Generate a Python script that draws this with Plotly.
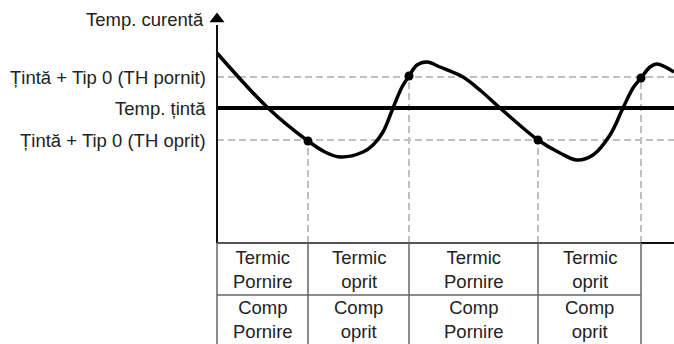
import plotly.graph_objects as go

# ---- data (time units, temperature units) ----
curve_t = [0, 51, 91, 108, 123, 146, 156, 166, 176, 185, 192, 200, 210, 223, 246, 264, 283,
           321, 343, 360, 376, 393, 406, 416, 424, 433, 440, 457]
curve_T = [190, 135, 102, 91, 86, 91, 98, 111, 135, 156, 167, 178, 181, 176, 166, 152, 135,
           103, 90, 83, 88, 108, 135, 155, 165, 176, 179, 171]

event_t = [91, 192, 321, 424]
event_T = [102, 167, 103, 165]

t_end = 457
th_on = 166
target = 135
th_off = 103
axis_top = 218

level_labels = ["Țintă + Tip 0 (TH pornit)", "Temp. țintă", "Țintă + Tip 0 (TH oprit)"]
level_values = [th_on, target, th_off]
y_axis_label = "Temp. curentă"

row1_labels = ["Termic<br>Pornire", "Termic<br>oprit", "Termic<br>Pornire", "Termic<br>oprit"]
row2_labels = ["Comp<br>Pornire", "Comp<br>oprit", "Comp<br>Pornire", "Comp<br>oprit"]
row_bounds = [0, -52, -101]

FONT = "Liberation Sans, Arial, sans-serif"
TXT = "#222222"
DASH = "#c0c0c0"
GRID = "#666666"

fig = go.Figure()

# dashed threshold lines
for v in (th_on, th_off):
    fig.add_trace(go.Scatter(x=[0, t_end], y=[v, v], mode="lines",
                             line=dict(color=DASH, width=2, dash="7px,4px"),
                             hoverinfo="skip", showlegend=False))
# dashed verticals at events
for et, eT in zip(event_t, event_T):
    fig.add_trace(go.Scatter(x=[et, et], y=[0, eT], mode="lines",
                             line=dict(color=DASH, width=2, dash="7px,4px"),
                             hoverinfo="skip", showlegend=False))

# target line
fig.add_trace(go.Scatter(x=[0, t_end], y=[target, target], mode="lines",
                         line=dict(color="black", width=4),
                         hoverinfo="skip", showlegend=False))

# temperature curve
fig.add_trace(go.Scatter(x=curve_t, y=curve_T, mode="lines",
                         line=dict(color="black", width=3.5, shape="spline", smoothing=1.0),
                         hoverinfo="skip", showlegend=False))
# event dots
fig.add_trace(go.Scatter(x=event_t, y=event_T, mode="markers",
                         marker=dict(color="black", size=9),
                         hoverinfo="skip", showlegend=False))

# axes
fig.add_trace(go.Scatter(x=[0, 0], y=[0, axis_top], mode="lines",
                         line=dict(color="#111111", width=2),
                         hoverinfo="skip", showlegend=False))
fig.add_trace(go.Scatter(x=[0], y=[axis_top + 6], mode="markers",
                         marker=dict(symbol="triangle-up", color="black", size=13),
                         hoverinfo="skip", showlegend=False))
fig.add_trace(go.Scatter(x=[0, event_t[-1]], y=[0, 0], mode="lines",
                         line=dict(color="#555555", width=2),
                         hoverinfo="skip", showlegend=False))
fig.add_trace(go.Scatter(x=[event_t[-1], t_end], y=[0, 0], mode="lines",
                         line=dict(color="#111111", width=2),
                         hoverinfo="skip", showlegend=False))

# table grid
shapes = []
col_edges = [0] + event_t
for ce in col_edges:
    shapes.append(dict(type="line", xref="x", yref="y", x0=ce, x1=ce,
                       y0=row_bounds[0], y1=row_bounds[2],
                       line=dict(color=GRID, width=1.5)))
shapes.append(dict(type="line", xref="x", yref="y", x0=0, x1=event_t[-1],
                   y0=row_bounds[1], y1=row_bounds[1],
                   line=dict(color=GRID, width=1.5)))

annotations = []
for i in range(len(event_t)):
    cx = (col_edges[i] + col_edges[i + 1]) / 2
    for labels, r in ((row1_labels, 0), (row2_labels, 1)):
        cy = (row_bounds[r] + row_bounds[r + 1]) / 2
        annotations.append(dict(x=cx, y=cy, xref="x", yref="y", text=labels[i],
                                showarrow=False, xanchor="center", yanchor="middle",
                                font=dict(family=FONT, size=18.5, color=TXT)))

for lab, v in zip(level_labels, level_values):
    annotations.append(dict(x=0, y=v, xref="x", yref="y", text=lab, showarrow=False,
                            xanchor="right", yanchor="middle", xshift=-9,
                            font=dict(family=FONT, size=18.5, color=TXT)))
annotations.append(dict(x=0, y=axis_top + 6, xref="x", yref="y", text=y_axis_label,
                        showarrow=False, xanchor="right", yanchor="middle", xshift=-11,
                        font=dict(family=FONT, size=18.5, color=TXT)))

fig.update_layout(
    width=674, height=344,
    margin=dict(l=0, r=0, t=0, b=0),
    paper_bgcolor="white", plot_bgcolor="white",
    xaxis=dict(range=[-217, 457], visible=False, fixedrange=True),
    yaxis=dict(range=[-101, 243], visible=False, fixedrange=True),
    shapes=shapes, annotations=annotations,
    showlegend=False,
)

fig.write_html("out.html", config={"displayModeBar": False},
               post_script="document.body.style.margin='0';document.body.style.overflow='hidden';")
